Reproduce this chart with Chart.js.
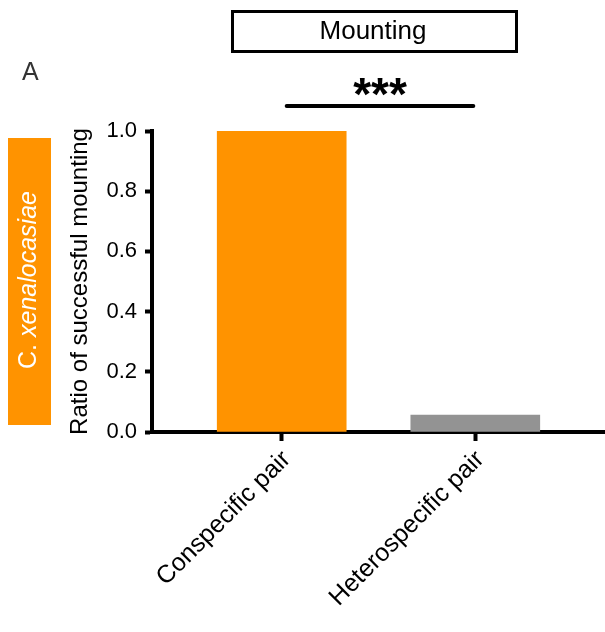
<!DOCTYPE html>
<html>
<head>
<meta charset="utf-8">
<script src="https://cdn.jsdelivr.net/npm/chart.js@4.4.1/dist/chart.umd.min.js"></script>
<style>
  html, body { margin: 0; padding: 0; background: #fff; }
  #wrap { width: 605px; height: 632px; position: relative; }
</style>
</head>
<body>
<div id="wrap"><canvas id="mountChart"></canvas></div>
<script>
const categories = ['Conspecific pair', 'Heterospecific pair'];
const ratios = [1.0, 0.056];
const barColors = ['#ff9300', '#939393'];
const yTicks = [0, 0.2, 0.4, 0.6, 0.8, 1.0];

const FONT = "'Liberation Sans', Arial, Helvetica, sans-serif";
const ORANGE = '#ff9300';

// panel decorations: letter, title box, significance bar, species label
const decorations = {
    id: 'decorations',
    afterDraw(chart) {
        const ctx = chart.ctx;
        const xs = chart.scales.x;
        ctx.save();

        ctx.fillStyle = '#333';
        ctx.font = '25px ' + FONT;
        ctx.textAlign = 'left';
        ctx.textBaseline = 'alphabetic';
        ctx.fillText('A', 22, 80);

        ctx.strokeStyle = '#000';
        ctx.lineWidth = 3;
        ctx.strokeRect(232.5, 11.5, 284, 40);
        ctx.fillStyle = '#000';
        ctx.font = '26px ' + FONT;
        ctx.textAlign = 'center';
        ctx.textBaseline = 'middle';
        ctx.fillText('Mounting', 373, 32);

        const x1 = xs.getPixelForValue(1) + 5;
        const x2 = xs.getPixelForValue(2) - 2;
        ctx.lineWidth = 4;
        ctx.lineCap = 'round';
        ctx.beginPath();
        ctx.moveTo(x1, 106);
        ctx.lineTo(x2, 106);
        ctx.stroke();
        ctx.font = 'bold 46px ' + FONT;
        ctx.textBaseline = 'alphabetic';
        ctx.fillText('***', (x1 + x2) / 2, 110);

        ctx.fillStyle = ORANGE;
        ctx.fillRect(8, 138, 43, 287);
        ctx.translate(29, 280);
        ctx.rotate(-Math.PI / 2);
        ctx.fillStyle = '#fff';
        ctx.textBaseline = 'middle';
        ctx.textAlign = 'left';
        const normalFont = '25px ' + FONT;
        const italicFont = 'italic 25px ' + FONT;
        ctx.font = normalFont;
        const w1 = ctx.measureText('C. ').width;
        ctx.font = italicFont;
        const w2 = ctx.measureText('xenalocasiae').width;
        const start = -(w1 + w2) / 2;
        ctx.font = normalFont;
        ctx.fillText('C. ', start, 0);
        ctx.font = italicFont;
        ctx.fillText('xenalocasiae', start + w1, 0);

        ctx.restore();
    }
};

const ctx = document.getElementById('mountChart');
new Chart(ctx, {
    type: 'bar',
    data: {
        datasets: [{
            data: categories.map((c, i) => ({ x: i + 1, y: ratios[i] })),
            backgroundColor: barColors,
            borderWidth: 0,
            barThickness: 129
        }]
    },
    options: {
        responsive: true,
        maintainAspectRatio: false,
        animation: false,
        layout: { padding: { top: 131, right: 0, bottom: 0, left: 0 } },
        plugins: {
            legend: { display: false },
            tooltip: { enabled: false }
        },
        scales: {
            x: {
                type: 'linear',
                offset: false,
                min: 0.33,
                max: 2.67,
                afterFit: scale => { scale.height = 200; },
                afterBuildTicks: scale => {
                    scale.ticks = categories.map((c, i) => ({ value: i + 1 }));
                },
                grid: {
                    offset: false,
                    drawOnChartArea: false,
                    drawTicks: true,
                    tickLength: 9,
                    tickWidth: 4,
                    tickColor: '#000'
                },
                border: { color: '#000', width: 4 },
                ticks: {
                    autoSkip: false,
                    minRotation: 45,
                    maxRotation: 45,
                    padding: 4,
                    labelOffset: 5,
                    color: '#000',
                    font: { family: FONT, size: 25 },
                    callback: value => categories[Math.round(value) - 1]
                }
            },
            y: {
                min: 0,
                max: 1,
                afterFit: scale => { scale.width = 152; },
                afterBuildTicks: scale => {
                    scale.ticks = yTicks.map(v => ({ value: v }));
                },
                grid: {
                    drawOnChartArea: false,
                    drawTicks: true,
                    tickLength: 7,
                    tickWidth: 4,
                    tickColor: '#000'
                },
                border: { color: '#000', width: 4 },
                ticks: {
                    padding: 8,
                    color: '#000',
                    font: { family: FONT, size: 22 },
                    callback: value => value.toFixed(1)
                },
                title: {
                    display: true,
                    text: 'Ratio of successful mounting',
                    color: '#000',
                    font: { family: FONT, size: 24 },
                    padding: { top: 66, bottom: 0 }
                }
            }
        }
    },
    plugins: [decorations]
});
</script>
</body>
</html>
